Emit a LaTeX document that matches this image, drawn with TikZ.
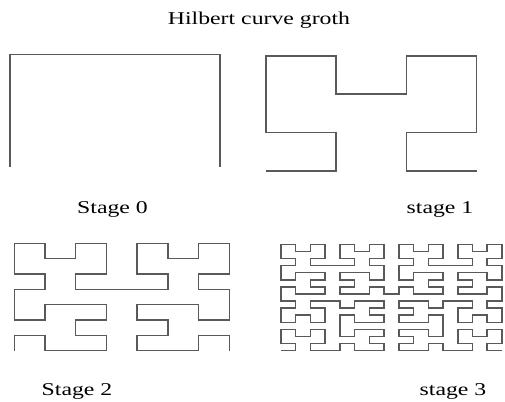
\documentclass[tikz,border=0pt]{standalone}
\usepackage{fontspec}
\setmainfont{Liberation Serif}
\usetikzlibrary{lindenmayersystems}
\pgfdeclarelindenmayersystem{Hilbert}{
  \rule{A -> +BF-AFA-FB+}
  \rule{B -> -AF+BFB+FA-}
}
\begin{document}
\begin{tikzpicture}[x=1pt,y=1pt,
  curve/.style={draw=black!65, line width=1.5pt, line join=miter},
  lab/.style={font=\fontsize{18}{21}\selectfont, xscale=1.32, inner sep=0pt, anchor=base}]
\useasboundingbox (0,0) rectangle (505,401);
% title and labels
\node[lab] (title) at (259,376) {Hilbert curve groth};
\node[lab] (s0) at (112.5,187) {Stage 0};
\node[lab] (s1) at (440,187) {stage 1};
\node[lab] (s2) at (77,5.5) {Stage 2};
\node[lab] (s3) at (453,5.5) {stage 3};
% stage 0
\begin{scope}[shift={(10,234)}, xscale=210, yscale=112.5]
  \draw[curve, l-system={Hilbert, axiom=A, order=1, step=1pt, angle=90}] l-system;
\end{scope}
% stage 1
\begin{scope}[shift={(266,230)}, xscale=70.2, yscale=38.4]
  \draw[curve, l-system={Hilbert, axiom=A, order=2, step=1pt, angle=90}] l-system;
\end{scope}
% stage 2
\begin{scope}[shift={(14.3,50.3)}, xscale=30.71, yscale=15.34]
  \draw[curve, l-system={Hilbert, axiom=A, order=3, step=1pt, angle=90}] l-system;
\end{scope}
% stage 3
\begin{scope}[shift={(281,50.3)}, xscale=14.73, yscale=7.09]
  \draw[curve, l-system={Hilbert, axiom=A, order=4, step=1pt, angle=90}] l-system;
\end{scope}
\end{tikzpicture}
\end{document}
